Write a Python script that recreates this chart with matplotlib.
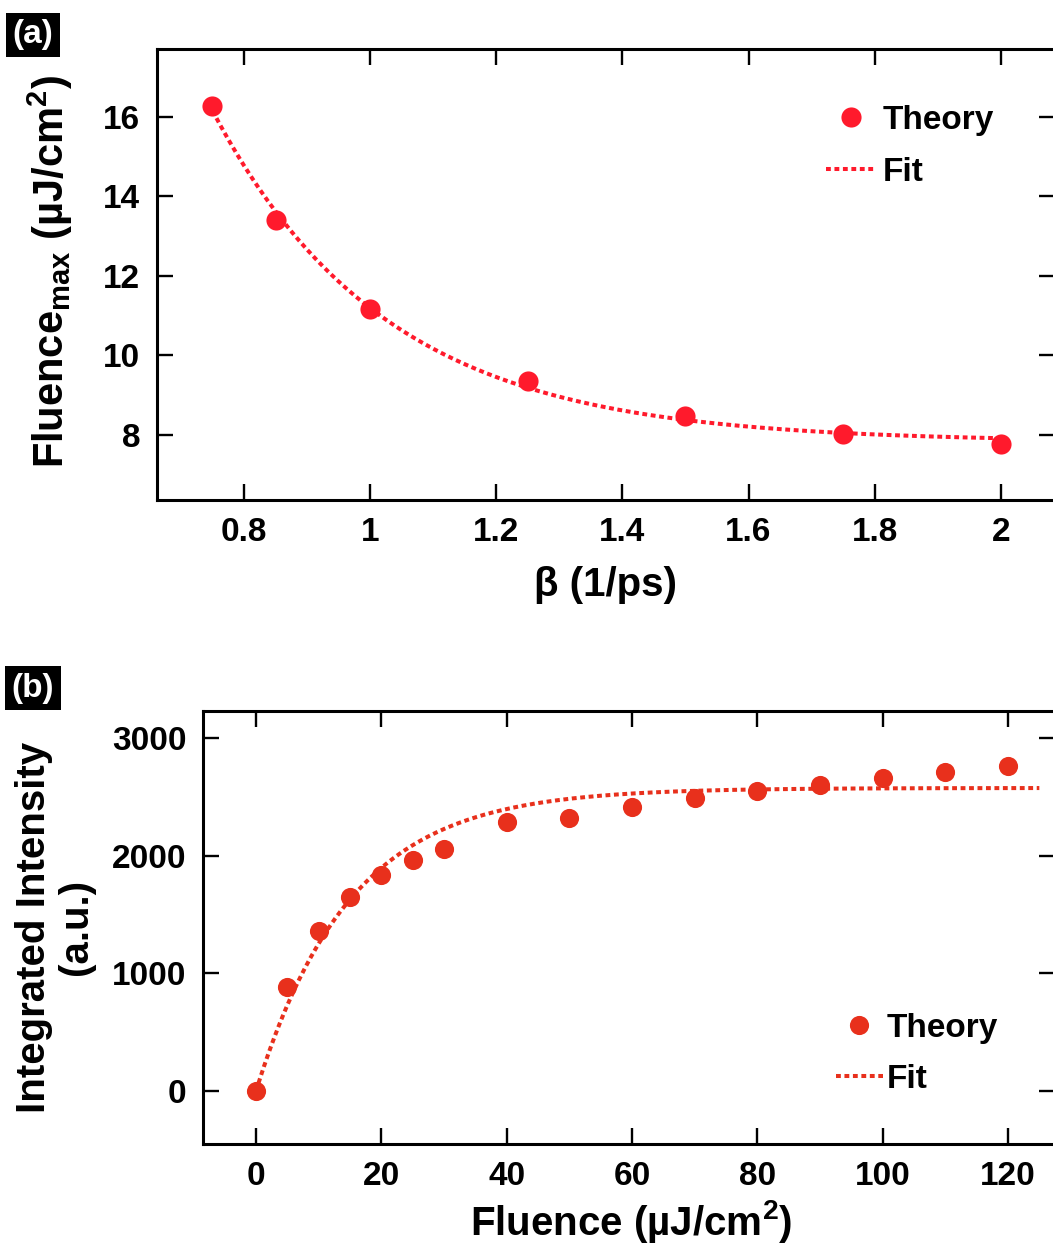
import numpy as np
import matplotlib
matplotlib.use("Agg")
import matplotlib.pyplot as plt

plt.rcParams['font.family'] = ['Liberation Sans', 'DejaVu Sans']
plt.rcParams['font.weight'] = 'bold'
plt.rcParams['mathtext.fontset'] = 'custom'
plt.rcParams['mathtext.rm'] = 'Liberation Sans:bold'
plt.rcParams['mathtext.bf'] = 'Liberation Sans:bold'
plt.rcParams['mathtext.it'] = 'Liberation Sans:bold'
plt.rcParams['mathtext.default'] = 'bf'

# ---------------- data ----------------
beta = [0.75, 0.85, 1.0, 1.25, 1.5, 1.75, 2.0]
fluence_max = [16.28, 13.41, 11.17, 9.36, 8.48, 8.02, 7.77]

fluence = [0, 5, 10, 15, 20, 25, 30, 40, 50, 60, 70, 80, 90, 100, 110, 120]
intensity = [0, 884, 1360, 1648, 1835, 1963, 2056, 2285, 2319, 2413,
             2489, 2549, 2600, 2659, 2710, 2761]

# saturation fit of panel (b): I = A (1 - exp(-F / F_sat))
fit_b_amp = 2575.0
fit_b_fsat = 15.0

a_xticks = [0.8, 1.0, 1.2, 1.4, 1.6, 1.8, 2.0]
a_xticklabels = ['0.8', '1', '1.2', '1.4', '1.6', '1.8', '2']
a_yticks = [8, 10, 12, 14, 16]
b_xticks = [0, 20, 40, 60, 80, 100, 120]
b_yticks = [0, 1000, 2000, 3000]

col_a = '#ff1a2c'
col_b = '#e8301c'

# ---------------- fit for panel (a): y0 + A exp(-k x) ----------------
bx = np.array(beta)
by = np.array(fluence_max)
best = None
for k in np.linspace(0.5, 12, 11501):
    M = np.column_stack([np.ones_like(bx), np.exp(-k * bx)])
    coef, *_ = np.linalg.lstsq(M, by, rcond=None)
    r = np.sum((M @ coef - by) ** 2)
    if best is None or r < best[0]:
        best = (r, k, coef)
_, kbest, cbest = best
xa_fit = np.linspace(0.75, 2.0, 300)
ya_fit = cbest[0] + cbest[1] * np.exp(-kbest * xa_fit)

xb_fit = np.linspace(0, 125, 400)
yb_fit = fit_b_amp * (1 - np.exp(-xb_fit / fit_b_fsat))

# ---------------- figure ----------------
W, H = 1053, 1245
fig = plt.figure(figsize=(W / 100, H / 100), dpi=100)

def px_axes(l, t, r, b):
    return fig.add_axes([l / W, 1 - b / H, (r - l) / W, (b - t) / H])

axa = px_axes(157, 49, 1055, 500)
axb = px_axes(203, 711, 1055, 1144)

dot = (0, (1.2, 0.9))

for ax in (axa, axb):
    for s in ax.spines.values():
        s.set_linewidth(2.2)
    ax.tick_params(direction='in', length=11.5, width=1.7, top=True, right=True,
                   labelsize=24, pad=12)

# panel a
axa.plot(xa_fit, ya_fit, linestyle=dot, color=col_a, lw=2.9, label='Fit', zorder=2)
axa.plot(beta, fluence_max, 'o', color=col_a, ms=14.5, mec='none', label='Theory', zorder=3)
axa.set_xlim(0.662, 2.086)
axa.set_ylim(6.36, 17.71)
axa.set_xticks(a_xticks)
axa.set_xticklabels(a_xticklabels, fontweight='bold')
axa.set_yticks(a_yticks)
axa.set_yticklabels([str(v) for v in a_yticks], fontweight='bold')
axa.set_xlabel('β (1/ps)', fontsize=29, fontweight='bold', va='center')
axa.xaxis.set_label_coords(0.5, -0.188)
axa.set_ylabel(r'Fluence$_{\mathbf{max}}$ (µJ/cm$^{\mathbf{2}}$)', fontsize=30,
               fontweight='bold', va='center')
axa.yaxis.set_label_coords(-0.119, 0.506)
h, l = axa.get_legend_handles_labels()
axa.legend(h[::-1], l[::-1], loc='upper left', bbox_to_anchor=(826 / W, 1 - 105 / H),
           bbox_transform=fig.transFigure, frameon=False, numpoints=1,
           handlelength=1.5, handletextpad=0.2, labelspacing=0.62,
           borderpad=0, borderaxespad=0, prop={'weight': 'bold', 'size': 24})

# panel b
axb.plot(xb_fit, yb_fit, linestyle=dot, color=col_b, lw=2.9, label='Fit', zorder=2)
axb.plot(fluence, intensity, 'o', color=col_b, ms=13.8, mec='none', label='Theory', zorder=3)
axb.set_xlim(-8.46, 127.5)
axb.set_ylim(-450, 3229)
axb.set_xticks(b_xticks)
axb.set_xticklabels([str(v) for v in b_xticks], fontweight='bold')
axb.set_yticks(b_yticks)
axb.set_yticklabels([str(v) for v in b_yticks], fontweight='bold')
axb.set_xlabel(r'Fluence (µJ/cm$^{\mathbf{2}}$)', fontsize=29, fontweight='bold', va='center')
axb.xaxis.set_label_coords(0.502, -0.18)
axb.set_ylabel('Integrated Intensity\n(a.u.)', fontsize=29, fontweight='bold',
               va='center', linespacing=1.15)
axb.yaxis.set_label_coords(-0.174, 0.501)
h, l = axb.get_legend_handles_labels()
axb.legend(h[::-1], l[::-1], loc='upper left', bbox_to_anchor=(836 / W, 1 - 1013 / H),
           bbox_transform=fig.transFigure, frameon=False, numpoints=1,
           handlelength=1.4, handletextpad=0.12, labelspacing=0.6,
           borderpad=0, borderaxespad=0, prop={'weight': 'bold', 'size': 24})

# panel tags
for txt, cy in (('(a)', 35), ('(b)', 688)):
    fig.text(33 / W, 1 - cy / H, txt, color='white', fontsize=24, fontweight='bold',
             ha='center', va='center',
             bbox=dict(boxstyle='square,pad=0.2', fc='black', ec='none'))

fig.savefig('out.png', dpi=100)
